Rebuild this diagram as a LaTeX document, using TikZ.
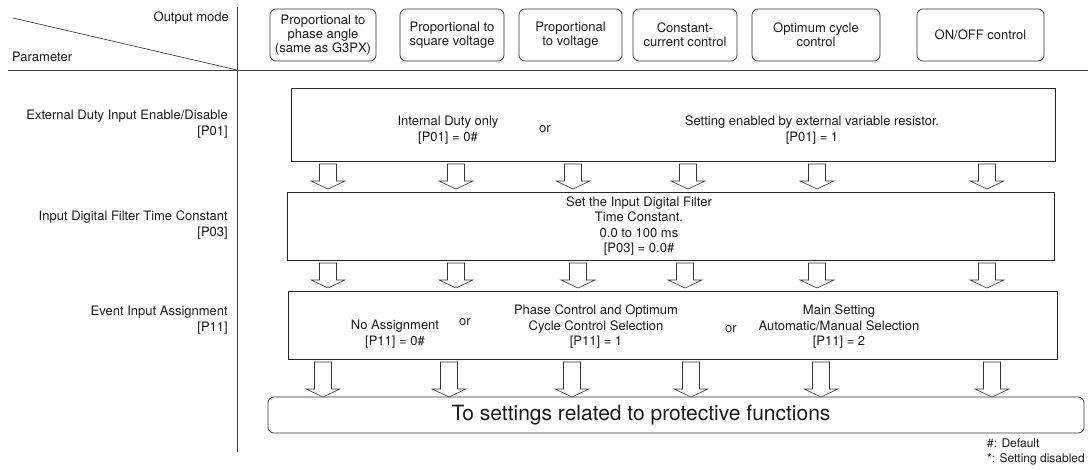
\documentclass[tikz,border=0pt]{standalone}
\usepackage{fontspec}
\setmainfont{TeX Gyre Heros}
\begin{document}
\begin{tikzpicture}[x=1pt,y=-1pt,
  every node/.style={font=\fontsize{13}{15.5}\selectfont, inner sep=0pt, text=black!90},
  modebox/.style={draw=black!80, line width=0.7pt, rounded corners=6pt, minimum height=52pt, align=center, font=\fontsize{13}{14}\selectfont},
  parbox/.style={draw=black!85, line width=0.8pt},
  endbox/.style={draw=black!80, line width=0.7pt, rounded corners=6pt},
  txt/.style={align=center},
  rowlbl/.style={align=right, anchor=east},
  barrow/.style={draw=black!80, line width=0.6pt, fill=white},
  rulel/.style={draw=black!75, line width=0.7pt},
  pics/blockarrow/.style={code={
    \draw[barrow] (-8.5,0) -- (8.5,0) -- (8.5,#1-8) -- (17,#1-8) -- (0,#1) -- (-17,#1-8) -- (-8.5,#1-8) -- cycle;
  }}]
\useasboundingbox (0,0) rectangle (1088,470);

% header rules
\coordinate (vtop) at (237,7);
\coordinate (vbot) at (237,452);
\coordinate (hl) at (8,70);
\coordinate (hr) at (1088,70);
\coordinate (dg) at (13,18);
\coordinate (corner) at (237,70);
\draw[rulel] (vtop) -- (vbot);
\draw[rulel] (hl) -- (hr);
\draw[rulel] (dg) -- (corner);
\node[anchor=east] (om) at (229,18) {Output mode};
\node[anchor=west] (pm) at (12,57) {Parameter};

% output mode boxes
\node[modebox, minimum width=106pt] (m1) at (323,35) {Proportional to\\phase angle\\(same as G3PX)};
\node[modebox, minimum width=104pt] (m2) at (452,35) {Proportional to\\square voltage};
\node[modebox, minimum width=103pt] (m3) at (570.5,35) {Proportional\\to voltage};
\node[modebox, minimum width=104pt] (m4) at (685,35) {Constant-\\current control};
\node[modebox, minimum width=128pt] (m5) at (816,35) {Optimum cycle\\control};
\node[modebox, minimum width=127pt] (m6) at (980.5,35) {ON/OFF control};

% row labels
\node[rowlbl] (l1) at (228,124) {External Duty Input Enable/Disable\\{[P01]}};
\node[rowlbl] (l2) at (228,225) {Input Digital Filter Time Constant\\{[P03]}};
\node[rowlbl] (l3) at (228,320) {Event Input Assignment\\{[P11]}};

% parameter boxes
\node[parbox, minimum width=764pt, minimum height=73pt] (b1) at (673,124.5) {};
\node[parbox, minimum width=767pt, minimum height=68pt] (b2) at (670.5,226) {};
\node[parbox, minimum width=769pt, minimum height=68pt] (b3) at (672.5,325) {};
\node[endbox, minimum width=816pt, minimum height=36pt] (b4) at (676,415) {};

% texts in box 1
\node[txt] (t11) at (448,130) {Internal Duty only\\{[P01]} = 0\#};
\node (or1) at (545,129) {or};
\node[txt] (t12) at (812,130) {Setting enabled by external variable resistor.\\{[P01]} = 1};

% text in box 2
\node[txt] (t21) at (639,226) {Set the Input Digital Filter\\Time Constant.\\0.0 to 100 ms\\{[P03]} = 0.0\#};

% texts in box 3
\node[txt] (t31) at (395,334) {No Assignment\\{[P11]} = 0\#};
\node (or2) at (465,322) {or};
\node[txt] (t32) at (596,327) {Phase Control and Optimum\\Cycle Control Selection\\{[P11]} = 1};
\node (or3) at (731,329) {or};
\node[txt] (t33) at (839,327) {Main Setting\\Automatic/Manual Selection\\{[P11]} = 2};

% final box text
\node[font=\fontsize{21}{24}\selectfont] (t41) at (641,415) {To settings related to protective functions};

% block arrows
\foreach \x in {328,456,573,688,817,987} \pic at (\x,164) {blockarrow=25};
\foreach \x in {328,456,578,685,817,987} \pic at (\x,263) {blockarrow=25};
\foreach \x in {323,449,572,691,821,992} \pic at (\x,362) {blockarrow=35};

% footnotes
\node[align=left, anchor=north east, font=\fontsize{12}{15}\selectfont] (fn) at (1085,439) {\#: Default\\*: Setting disabled};
\end{tikzpicture}
\end{document}
